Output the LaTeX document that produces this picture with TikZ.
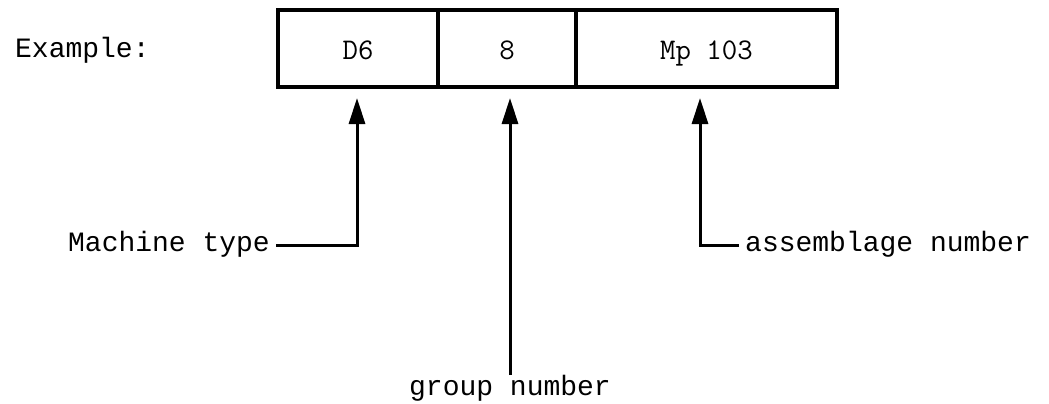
\documentclass[tikz,border=0pt]{standalone}
\usepackage{fontspec}
\newfontfamily\labfont{Liberation Mono}
\usetikzlibrary{arrows.meta}
\begin{document}
\begin{tikzpicture}[x=1pt,y=-1pt,
  cell/.style={draw, line width=3.5pt, inner sep=0pt, outer sep=0pt,
    minimum height=77pt, text height=22pt, text depth=0pt,
    font=\ttfamily\fontsize{30}{30}\selectfont},
  lbl/.style={font=\labfont\fontsize{28}{28}\selectfont, text height=12pt, text depth=0pt, inner sep=6pt},
  arr/.style={line width=3pt, -{Triangle[width=16pt,length=26pt]}}]
\useasboundingbox (0,0) rectangle (1049,404);
\node[cell, minimum width=160pt] (d6) at (358,48.5) {D6};
\node[cell, minimum width=138pt] (eight) at (507,48.5) {8};
\node[cell, minimum width=261pt] (mp) at (706.5,48.5) {Mp 103};
\node[lbl, anchor=west, inner sep=0pt] (ex) at (15,52) {Example:};
\node[lbl, anchor=east] (mt) at (276,245) {Machine type};
\node[lbl, anchor=west] (as) at (739,245) {assemblage number};
\node[lbl, anchor=north, inner sep=0pt, text height=20pt] (gn) at (510,375) {group number};
\coordinate (t1) at (357,98);
\coordinate (t3) at (700,98);
\draw[arr] (mt.east) -| (t1);
\draw[arr] (gn.north) -- (gn.north |- t1);
\draw[arr] (as.west) -| (t3);
\end{tikzpicture}
\end{document}
